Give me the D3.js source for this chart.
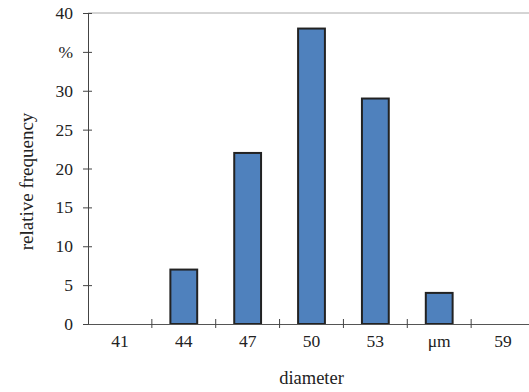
<!DOCTYPE html>
<html>
<head>
<meta charset="utf-8">
<script src="https://cdn.jsdelivr.net/npm/d3@7"></script>
<style>
  body { margin: 0; background: #fff; }
  svg text { font-family: "Liberation Serif", "Times New Roman", Times, serif; fill: #222; }
</style>
</head>
<body>
<div id="chart"></div>
<script>
// categories along x (the 56 slot carries the unit label)
var categories = ["41", "44", "47", "50", "53", "μm", "59"];
var frequency = [0, 7, 22, 38, 29, 4, 0];
var yTicks = [0, 5, 10, 15, 20, 25, 30, 35, 40];
var yTickLabels = ["0", "5", "10", "15", "20", "25", "30", "%", "40"];

var svgWidth = 529, svgHeight = 392;
var margin = { top: 13, right: -6, bottom: 68, left: 88 };
var width = svgWidth - margin.left - margin.right;
var height = svgHeight - margin.top - margin.bottom;

var svg = d3.select("#chart").append("svg")
  .attr("width", svgWidth)
  .attr("height", svgHeight);

var chartGroup = svg.append("g")
  .attr("transform", `translate(${margin.left}, ${margin.top})`);

var xScale = d3.scaleBand()
  .domain(categories)
  .range([0, width])
  .paddingInner(0)
  .paddingOuter(0);

var yScale = d3.scaleLinear()
  .domain([0, 40])
  .range([height, 0]);

// top border of plot area
chartGroup.append("line")
  .attr("x1", 0).attr("x2", width)
  .attr("y1", 0).attr("y2", 0)
  .attr("stroke", "#aaa")
  .attr("stroke-width", 1);

// bars
var barW = xScale.bandwidth() * 0.42;
chartGroup.selectAll("rect.bar")
  .data(categories.map((c, i) => ({ cat: c, v: frequency[i] })).filter(d => d.v > 0))
  .join("rect")
  .attr("class", "bar")
  .attr("x", d => xScale(d.cat) + (xScale.bandwidth() - barW) / 2)
  .attr("y", d => yScale(d.v))
  .attr("width", barW)
  .attr("height", d => yScale(0) - yScale(d.v))
  .attr("fill", "#4f81bd")
  .attr("stroke", "#222")
  .attr("stroke-width", 2);

// y axis
var leftAxis = d3.axisLeft(yScale)
  .tickValues(yTicks)
  .tickFormat((d, i) => yTickLabels[i])
  .tickSizeInner(4)
  .tickSizeOuter(0)
  .tickPadding(11);

var yAxisG = chartGroup.append("g").call(leftAxis).attr("font-family", null);
yAxisG.select(".domain").attr("stroke", "#444");
yAxisG.selectAll(".tick line").attr("stroke", "#444").attr("x1", -5).attr("x2", 4);
yAxisG.selectAll(".tick text").style("font-size", "17.5px").attr("fill", "#222");

// x axis: ticks between categories
var bottomAxis = d3.axisBottom(xScale)
  .tickSize(0)
  .tickPadding(11);

var xAxisG = chartGroup.append("g")
  .attr("transform", `translate(0, ${height})`)
  .call(bottomAxis)
  .attr("font-family", null);
xAxisG.select(".domain").attr("stroke", "#555");
xAxisG.selectAll(".tick text").style("font-size", "17.5px").attr("fill", "#222");

xAxisG.selectAll("line.sep")
  .data(categories.slice(1))
  .join("line")
  .attr("class", "sep")
  .attr("x1", d => xScale(d)).attr("x2", d => xScale(d))
  .attr("y1", -5).attr("y2", 4)
  .attr("stroke", "#444");

// axis labels
chartGroup.append("text")
  .attr("transform", "rotate(-90)")
  .attr("x", -height / 2 - 13)
  .attr("y", -margin.left + 33)
  .attr("text-anchor", "middle")
  .style("font-size", "19px")
  .text("relative frequency");

chartGroup.append("text")
  .attr("x", width / 2)
  .attr("y", height + 60)
  .attr("text-anchor", "middle")
  .style("font-size", "18.5px")
  .text("diameter");
</script>
</body>
</html>
